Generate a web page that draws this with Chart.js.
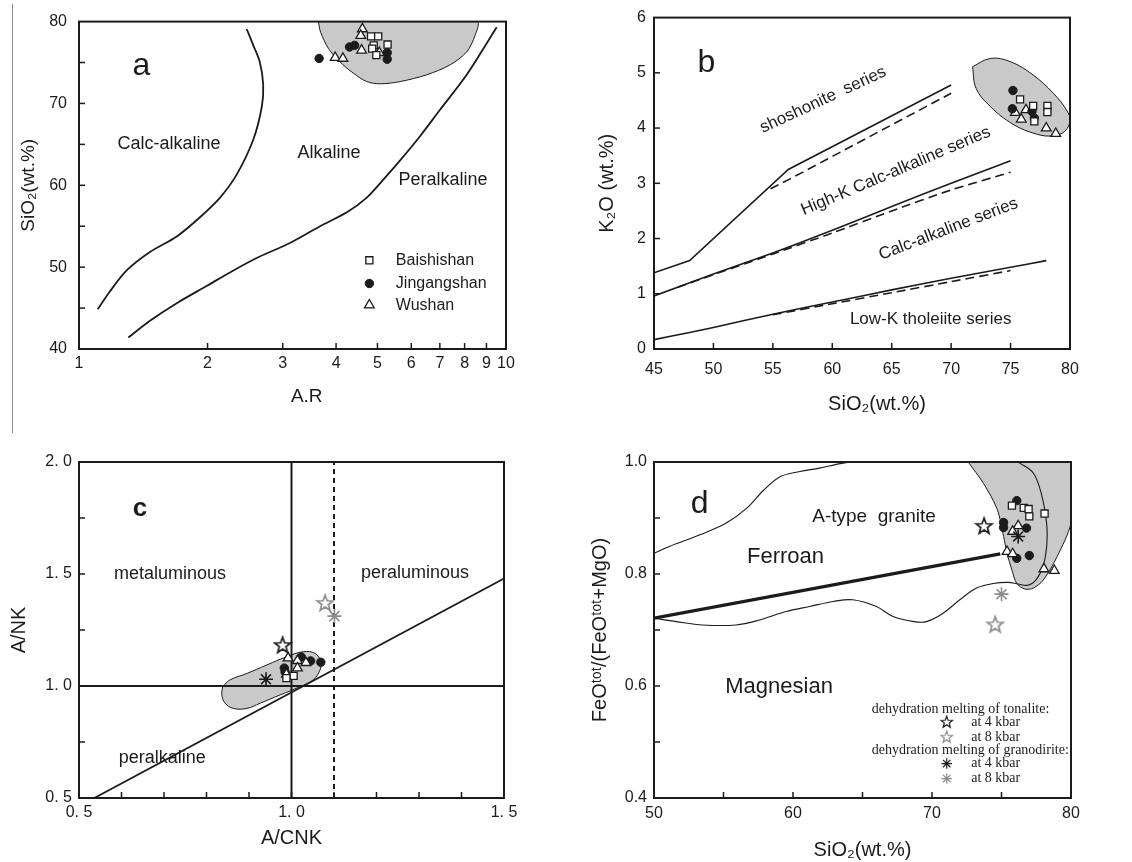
<!DOCTYPE html>
<html><head><meta charset="utf-8"><title>Granite discrimination diagrams</title>
<script src="https://cdn.jsdelivr.net/npm/chart.js@4/dist/chart.umd.min.js"></script>
<style>
html,body{margin:0;padding:0;background:#fff;}
#wrap{position:relative;width:1132px;height:862px;overflow:hidden;background:#fff;}
#wrap canvas{position:absolute;}
#sep{position:absolute;left:12px;top:4px;width:1px;height:429px;background:#888;}
</style></head><body>
<div id="wrap">
<div id="sep"></div>
<canvas id="ca" width="560" height="410" style="left:0;top:0"></canvas>
<canvas id="cb" width="572" height="416" style="left:560px;top:0"></canvas>
<canvas id="cc" width="560" height="452" style="left:0;top:410px"></canvas>
<canvas id="cd" width="572" height="452" style="left:560px;top:410px"></canvas>
</div>
<script>
const FONT = '"Liberation Sans", Arial, Helvetica, sans-serif';
const SERIF = '"Liberation Serif", "Times New Roman", serif';
const INK = '#1b1b1b';
const GRAY_MARK = '#8c8c8c';
const FIELD_GRAY = '#c9c9c9';

/* ---------- Panel a : SiO2 vs A.R ---------- */
const A_XTICKS = [1, 2, 3, 4, 5, 6, 7, 8, 9, 10];
const A_XLABELS = ['1', '2', '3', '4', '5', '6', '7', '8', '9', '10'];
const A_YTICKS = [40, 50, 60, 70, 80];
const A_YLABELS = ['40', '50', '60', '70', '80'];
const A_YMARKS = [45, 50, 55, 60, 65, 70, 75];
const A_CURVE1_X = [1.106, 1.18, 1.293, 1.466, 1.694, 1.92, 2.14, 2.34, 2.56, 2.68, 2.70, 2.65, 2.56, 2.47];
const A_CURVE1_Y = [44.85, 47.0, 49.6, 51.85, 53.75, 56.1, 58.5, 61.3, 65.6, 69.6, 72.35, 75.1, 77.1, 79.1];
const A_CURVE2_X = [1.305, 1.466, 1.694, 1.99, 2.30, 2.65, 3.12, 3.67, 4.24, 4.72, 5.16, 5.65, 6.29, 7.0, 8.09, 9.51];
const A_CURVE2_Y = [41.4, 43.45, 45.6, 47.7, 49.6, 51.3, 52.95, 55.0, 56.7, 58.5, 60.7, 63.05, 66.0, 69.2, 73.5, 79.3];
const A_FIELD_X = [3.635, 3.68, 3.84, 4.08, 4.39, 4.72, 5.07, 5.65, 6.52, 7.39, 8.09, 8.46, 8.57, 7.0, 5.5, 4.4, 3.635];
const A_FIELD_Y = [80, 78.7, 76.7, 75.1, 73.7, 72.67, 72.4, 72.67, 73.5, 74.7, 76.3, 78.3, 80, 80, 80, 80, 80];
const A_BAI_X = [4.83, 5.02, 4.90, 5.28, 4.86, 4.97];
const A_BAI_Y = [78.2, 78.2, 77.1, 77.2, 76.7, 75.9];
const A_JIN_X = [3.65, 4.30, 4.42, 5.27, 5.27];
const A_JIN_Y = [75.5, 76.9, 77.1, 76.2, 75.4];
const A_WU_X = [4.61, 4.57, 4.59, 3.98, 4.15, 5.05];
const A_WU_Y = [79.1, 78.3, 76.5, 75.6, 75.5, 76.2];

/* ---------- Panel b : K2O vs SiO2 ---------- */
const B_XTICKS = [45, 50, 55, 60, 65, 70, 75, 80];
const B_XLABELS = ['45', '50', '55', '60', '65', '70', '75', '80'];
const B_YTICKS = [0, 1, 2, 3, 4, 5, 6];
const B_YLABELS = ['0', '1', '2', '3', '4', '5', '6'];
const B_SHO_X = [45, 48, 56.3, 70];
const B_SHO_Y = [1.38, 1.6, 3.25, 4.78];
const B_SHO_D_X = [54.8, 56.8, 70];
const B_SHO_D_Y = [2.9, 3.12, 4.63];
const B_HK_X = [45, 50, 55, 60, 65, 70, 75];
const B_HK_Y = [0.96, 1.36, 1.74, 2.15, 2.58, 3.0, 3.41];
const B_HK_D_X = [47, 55, 60, 65, 70, 75];
const B_HK_D_Y = [1.12, 1.72, 2.1, 2.5, 2.88, 3.2];
const B_LK_X = [45, 48, 50, 55, 60, 65, 70, 75, 78];
const B_LK_Y = [0.17, 0.3, 0.39, 0.63, 0.85, 1.07, 1.28, 1.48, 1.6];
const B_LK_D_X = [55, 60, 65, 70, 75];
const B_LK_D_Y = [0.62, 0.82, 1.02, 1.22, 1.42];
const B_FIELD_X = [71.8, 73.3, 75.0, 76.9, 78.6, 79.7, 80.0, 79.6, 78.6, 77.2, 75.2, 73.3, 72.1, 71.8];
const B_FIELD_Y = [5.11, 5.26, 5.2, 4.96, 4.63, 4.33, 4.15, 3.95, 3.86, 3.89, 4.07, 4.39, 4.72, 5.11];
const B_BAI_X = [75.8, 76.9, 78.1, 78.1, 77.0];
const B_BAI_Y = [4.52, 4.4, 4.4, 4.29, 4.12];
const B_JIN_X = [75.2, 75.15, 76.8, 77.0];
const B_JIN_Y = [4.68, 4.35, 4.3, 4.18];
const B_WU_X = [75.4, 75.9, 76.3, 78.0, 78.8];
const B_WU_Y = [4.28, 4.16, 4.33, 4.0, 3.9];

/* ---------- Panel c : A/NK vs A/CNK ---------- */
const C_XTICKS = [0.5, 1.0, 1.5];
const C_XLABELS = ['0. 5', '1. 0', '1. 5'];
const C_XMARKS = [0.6, 0.7, 0.8, 0.9, 1.0, 1.1, 1.2, 1.3, 1.4];
const C_YTICKS = [0.5, 1.0, 1.5, 2.0];
const C_YLABELS = ['0. 5', '1. 0', '1. 5', '2. 0'];
const C_YMARKS = [0.75, 1.0, 1.25, 1.5, 1.75];
const C_VLINE_X = [1.0, 1.0], C_VLINE_Y = [0.5, 2.0];
const C_HLINE_X = [0.5, 1.5], C_HLINE_Y = [1.0, 1.0];
const C_DASH_X = [1.1, 1.1], C_DASH_Y = [0.5, 2.0];
const C_DIAG_X = [0.536, 1.5], C_DIAG_Y = [0.5, 1.48];
const C_FIELD_X = [0.838, 0.855, 0.895, 0.942, 0.989, 1.028, 1.055, 1.069, 1.067, 1.051, 1.020, 0.973, 0.926, 0.895, 0.863, 0.844, 0.836, 0.838];
const C_FIELD_Y = [0.997, 1.027, 1.056, 1.094, 1.131, 1.153, 1.146, 1.108, 1.071, 1.027, 0.997, 0.960, 0.923, 0.900, 0.900, 0.923, 0.960, 0.997];
const C_BAI_X = [1.005, 0.988];
const C_BAI_Y = [1.045, 1.035];
const C_JIN_X = [1.023, 1.045, 1.069, 0.983, 0.985];
const C_JIN_Y = [1.13, 1.112, 1.106, 1.08, 1.062];
const C_WU_X = [0.992, 1.014, 1.034, 1.014, 0.988];
const C_WU_Y = [1.125, 1.113, 1.104, 1.08, 1.052];
const C_TON4_X = [0.979], C_TON4_Y = [1.183];
const C_TON8_X = [1.079], C_TON8_Y = [1.371];
const C_GRA4_X = [0.94], C_GRA4_Y = [1.03];
const C_GRA8_X = [1.101], C_GRA8_Y = [1.312];

/* ---------- Panel d : FeOt/(FeOt+MgO) vs SiO2 ---------- */
const D_XTICKS = [50, 60, 70, 80];
const D_XLABELS = ['50', '60', '70', '80'];
const D_XMARKS = [55, 60, 65, 70, 75];
const D_YTICKS = [0.4, 0.6, 0.8, 1.0];
const D_YLABELS = ['0.4', '0.6', '0.8', '1.0'];
const D_YMARKS = [0.5, 0.6, 0.7, 0.8, 0.9];
const D_DIVIDE_X = [50, 74.91];
const D_DIVIDE_Y = [0.721, 0.836];
const D_ATYPE_UP_X = [50, 51.1, 53.3, 55.2, 56.7, 57.9, 59.1, 60.5, 61.9, 63.6, 64.8];
const D_ATYPE_UP_Y = [0.837, 0.849, 0.87, 0.891, 0.918, 0.95, 0.974, 0.983, 0.989, 0.998, 1.0];
const D_ATYPE_LOW_X = [76.2, 77.3, 77.9, 78.25, 78.25, 78.0, 77.5, 76.9, 76.2, 75.5, 74.4, 73.2, 72.0, 70.8, 69.6, 68.7, 67.2, 66.0, 64.3, 62.9, 61.2, 59.5, 57.6, 55.9, 53.5, 51.6, 50];
const D_ATYPE_LOW_Y = [1.0, 0.98, 0.94, 0.89, 0.85, 0.815, 0.79, 0.78, 0.782, 0.785, 0.783, 0.775, 0.754, 0.73, 0.715, 0.715, 0.724, 0.742, 0.754, 0.751, 0.742, 0.733, 0.718, 0.709, 0.709, 0.715, 0.721];
const D_FIELD_X = [72.6, 73.7, 74.7, 75.15, 75.4, 75.75, 76.1, 76.7, 77.3, 78.0, 79.0, 80.0, 80.0, 80.0, 76.0, 72.6];
const D_FIELD_Y = [1.0, 0.962, 0.915, 0.867, 0.837, 0.807, 0.783, 0.773, 0.775, 0.789, 0.831, 0.891, 0.95, 1.0, 1.0, 1.0];
const D_BAI_X = [75.75, 76.6, 76.95, 77.0, 78.1];
const D_BAI_Y = [0.922, 0.918, 0.916, 0.903, 0.908];
const D_JIN_X = [76.1, 75.15, 75.15, 76.8, 76.1, 77.0];
const D_JIN_Y = [0.931, 0.892, 0.883, 0.882, 0.828, 0.833];
const D_WU_X = [76.2, 75.8, 75.4, 75.8, 78.05, 78.8];
const D_WU_Y = [0.886, 0.876, 0.84, 0.836, 0.809, 0.806];
const D_TON4_X = [73.75], D_TON4_Y = [0.886];
const D_TON8_X = [74.55], D_TON8_Y = [0.71];
const D_GRA4_X = [76.2], D_GRA4_Y = [0.867];
const D_GRA8_X = [75.0], D_GRA8_Y = [0.764];

/* ---------- helpers ---------- */
function pts(xs, ys) { return xs.map((v, i) => ({x: v, y: ys[i]})); }

function starImg(color) {
  const c = document.createElement('canvas');
  c.width = 20; c.height = 20;
  const g = c.getContext('2d');
  g.beginPath();
  for (let i = 0; i < 10; i++) {
    const r = i % 2 ? 3.5 : 8.4;
    const a = -Math.PI / 2 + i * Math.PI / 5;
    g.lineTo(10 + r * Math.cos(a), 10.6 + r * Math.sin(a));
  }
  g.closePath();
  g.fillStyle = '#fff'; g.fill();
  g.lineWidth = 1.7; g.strokeStyle = color; g.lineJoin = 'miter'; g.stroke();
  return c;
}
const STAR_BLACK = starImg(INK);
const STAR_GRAY = starImg(GRAY_MARK);

const STYLES = {
  bai: {pointStyle: 'rect', pointRadius: 5, pointBackgroundColor: '#fff', pointBorderColor: INK, pointBorderWidth: 1.3},
  jin: {pointStyle: 'circle', pointRadius: 4.2, pointBackgroundColor: INK, pointBorderColor: INK, pointBorderWidth: 1},
  wu: {pointStyle: 'triangle', pointRadius: 5.6, pointBackgroundColor: '#fff', pointBorderColor: INK, pointBorderWidth: 1.3},
  ton4: {pointStyle: STAR_BLACK, pointRadius: 8, pointBackgroundColor: '#fff', pointBorderColor: INK, pointBorderWidth: 0},
  ton8: {pointStyle: STAR_GRAY, pointRadius: 8, pointBackgroundColor: '#fff', pointBorderColor: GRAY_MARK, pointBorderWidth: 0},
  gra4: {pointStyle: 'star', pointRadius: 7, pointBackgroundColor: INK, pointBorderColor: INK, pointBorderWidth: 1.6},
  gra8: {pointStyle: 'star', pointRadius: 7, pointBackgroundColor: GRAY_MARK, pointBorderColor: GRAY_MARK, pointBorderWidth: 1.6}
};

function pointDS(label, xs, ys, style) {
  return Object.assign({label, data: pts(xs, ys), showLine: false, order: 0}, STYLES[style]);
}
function lineDS(label, xs, ys, extra) {
  return Object.assign({label, data: pts(xs, ys), showLine: true, pointRadius: 0, borderColor: INK,
    borderWidth: 1.6, tension: 0.3, fill: false, order: 2}, extra || {});
}
function fieldDS(label, xs, ys, extra) {
  return Object.assign({label, data: pts(xs, ys), showLine: true, pointRadius: 0, borderColor: INK,
    borderWidth: 1, backgroundColor: FIELD_GRAY, fill: 'shape', tension: 0.3, order: 3}, extra || {});
}

function drawKey(ctx, style, x, y, k) {
  const s = STYLES[style];
  ctx.save();
  ctx.translate(x, y);
  ctx.scale(k || 1, k || 1);
  ctx.fillStyle = s.pointBackgroundColor;
  ctx.strokeStyle = s.pointBorderColor;
  ctx.lineWidth = s.pointBorderWidth;
  if (Chart.helpers && Chart.helpers.drawPoint) {
    Chart.helpers.drawPoint(ctx, {pointStyle: s.pointStyle, radius: s.pointRadius, rotation: 0, borderWidth: s.pointBorderWidth}, 0, 0);
  }
  ctx.restore();
}

function decor(cfg) {
  return {
    id: 'decor',
    afterDatasetsDraw(chart) {
      const {ctx, chartArea: ca, scales} = chart;
      const X = scales.x, Y = scales.y;
      const w = ca.right - ca.left, h = ca.bottom - ca.top;
      ctx.save();
      (cfg.texts || []).forEach(t => {
        const px = t.fx !== undefined ? ca.left + t.fx * w : X.getPixelForValue(t.x);
        const py = t.fy !== undefined ? ca.top + t.fy * h : Y.getPixelForValue(t.y);
        ctx.save();
        ctx.translate(px, py);
        if (t.rot) ctx.rotate(t.rot * Math.PI / 180);
        ctx.font = (t.weight || 'normal') + ' ' + t.size + 'px ' + (t.family || FONT);
        ctx.fillStyle = t.color || INK;
        ctx.textAlign = t.align || 'center';
        ctx.textBaseline = 'middle';
        ctx.fillText(t.text, 0, 0);
        ctx.restore();
      });
      (cfg.keys || []).forEach(k => drawKey(ctx, k.style, ca.left + k.fx * w, ca.top + k.fy * h, k.k));
      ctx.strokeStyle = INK;
      ctx.lineWidth = 1.5;
      (cfg.xMarks || []).forEach(v => {
        const p = X.getPixelForValue(v);
        ctx.beginPath(); ctx.moveTo(p, ca.bottom); ctx.lineTo(p, ca.bottom - 6); ctx.stroke();
      });
      (cfg.yMarks || []).forEach(v => {
        const p = Y.getPixelForValue(v);
        ctx.beginPath(); ctx.moveTo(ca.left, p); ctx.lineTo(ca.left + 6, p); ctx.stroke();
      });
      ctx.lineWidth = 2;
      ctx.strokeRect(ca.left, ca.top, w, h);
      ctx.restore();
    }
  };
}

function axisOpts(a, pos) {
  return {
    type: a.type || 'linear', position: pos, min: a.min, max: a.max,
    grid: {display: false, drawTicks: false}, border: {display: false},
    afterBuildTicks: s => { s.ticks = a.ticks.map(v => ({value: v})); },
    afterFit: s => { if (pos === 'left') s.width = a.size; else s.height = a.size; },
    ticks: {autoSkip: false, maxRotation: 0, minRotation: 0, padding: a.pad, color: INK,
      font: {family: FONT, size: a.fontSize || 16}, callback: (v, i) => a.labels[i]},
    title: {display: true, text: a.title, color: INK, font: {family: FONT, size: a.titleSize || 20},
      padding: {top: a.titlePad, bottom: a.titlePad}}
  };
}

function build(id, cfg) {
  return new Chart(document.getElementById(id), {
    type: 'scatter',
    data: {datasets: cfg.datasets},
    options: {
      responsive: false, animation: false, events: [], devicePixelRatio: 1,
      layout: {padding: cfg.padding},
      plugins: {legend: {display: false}, tooltip: {enabled: false}},
      scales: {x: axisOpts(cfg.x, 'bottom'), y: axisOpts(cfg.y, 'left')}
    },
    plugins: [decor(cfg)]
  });
}

/* ---------- panel a ---------- */
build('ca', {
  padding: {left: 0, top: 12, right: 54, bottom: 0},
  x: {type: 'logarithmic', min: 1, max: 10, ticks: A_XTICKS, labels: A_XLABELS, size: 61, pad: 5,
      title: '\u2002\u2002\u2002A.R', titleSize: 19, titlePad: 2},
  y: {min: 40, max: 80, ticks: A_YTICKS, labels: A_YLABELS, size: 79, pad: 12,
      title: 'SiO\u2082(wt.%)', titleSize: 19, titlePad: 17},
  xMarks: A_XTICKS.slice(1, -1), yMarks: A_YMARKS,
  datasets: [
    pointDS('Baishishan', A_BAI_X, A_BAI_Y, 'bai'),
    pointDS('Jingangshan', A_JIN_X, A_JIN_Y, 'jin'),
    pointDS('Wushan', A_WU_X, A_WU_Y, 'wu'),
    lineDS('Calc-alkaline / Alkaline', A_CURVE1_X, A_CURVE1_Y, {borderWidth: 1.8}),
    lineDS('Alkaline / Peralkaline', A_CURVE2_X, A_CURVE2_Y, {borderWidth: 1.8}),
    fieldDS('A-type field', A_FIELD_X, A_FIELD_Y)
  ],
  texts: [
    {text: 'a', x: 1.40, y: 74.5, size: 32},
    {text: 'Calc-alkaline', x: 1.625, y: 65.07, size: 18},
    {text: 'Alkaline', x: 3.85, y: 64.0, size: 18},
    {text: 'Peralkaline', x: 7.12, y: 60.68, size: 18},
    {text: 'Baishishan', fx: 0.742, fy: 0.729, size: 16, align: 'left'},
    {text: 'Jingangshan', fx: 0.742, fy: 0.800, size: 16, align: 'left'},
    {text: 'Wushan', fx: 0.742, fy: 0.866, size: 16, align: 'left'}
  ],
  keys: [
    {style: 'bai', fx: 0.680, fy: 0.729},
    {style: 'jin', fx: 0.680, fy: 0.800},
    {style: 'wu', fx: 0.680, fy: 0.866}
  ]
});

/* ---------- panel b ---------- */
const DASH = [9, 5];
build('cb', {
  padding: {left: 0, top: 13, right: 62, bottom: 0},
  x: {min: 45, max: 80, ticks: B_XTICKS, labels: B_XLABELS, size: 67, pad: 11,
      title: '\u2002\u2002\u2002SiO\u2082(wt.%)', titleSize: 20, titlePad: 0},
  y: {min: 0, max: 6, ticks: B_YTICKS, labels: B_YLABELS, size: 94, pad: 8,
      title: 'K\u2082O (wt.%)', titleSize: 20, titlePad: 35},
  xMarks: B_XTICKS.slice(1, -1), yMarks: B_YTICKS.slice(1, -1),
  datasets: [
    pointDS('Baishishan', B_BAI_X, B_BAI_Y, 'bai'),
    pointDS('Jingangshan', B_JIN_X, B_JIN_Y, 'jin'),
    pointDS('Wushan', B_WU_X, B_WU_Y, 'wu'),
    lineDS('shoshonite boundary', B_SHO_X, B_SHO_Y, {tension: 0}),
    lineDS('shoshonite boundary (alt)', B_SHO_D_X, B_SHO_D_Y, {tension: 0, borderDash: DASH}),
    lineDS('high-K boundary', B_HK_X, B_HK_Y, {tension: 0.2}),
    lineDS('high-K boundary (alt)', B_HK_D_X, B_HK_D_Y, {tension: 0.2, borderDash: DASH}),
    lineDS('low-K boundary', B_LK_X, B_LK_Y, {tension: 0.2}),
    lineDS('low-K boundary (alt)', B_LK_D_X, B_LK_D_Y, {tension: 0.2, borderDash: DASH}),
    fieldDS('sample field', B_FIELD_X, B_FIELD_Y, {tension: 0.4})
  ],
  texts: [
    {text: 'b', x: 49.4, y: 5.17, size: 32},
    {text: 'shoshonite  series', x: 59.23, y: 4.51, size: 17, rot: -25},
    {text: 'High-K Calc-alkaline series', x: 65.34, y: 3.22, size: 17, rot: -23},
    {text: 'Calc-alkaline series', x: 69.77, y: 2.17, size: 17, rot: -21},
    {text: 'Low-K tholeiite series', x: 68.28, y: 0.54, size: 17}
  ]
});

/* ---------- panel c ---------- */
build('cc', {
  padding: {left: 0, top: 52, right: 56, bottom: 0},
  x: {min: 0.5, max: 1.5, ticks: C_XTICKS, labels: C_XLABELS, size: 64, pad: 5,
      title: 'A/CNK', titleSize: 20, titlePad: 12},
  y: {min: 0.5, max: 2.0, ticks: C_YTICKS, labels: C_YLABELS, size: 79, pad: 7,
      title: 'A/NK', titleSize: 20, titlePad: 7},
  xMarks: C_XMARKS, yMarks: C_YMARKS,
  datasets: [
    pointDS('tonalite 4 kbar', C_TON4_X, C_TON4_Y, 'ton4'),
    pointDS('tonalite 8 kbar', C_TON8_X, C_TON8_Y, 'ton8'),
    pointDS('granodiorite 4 kbar', C_GRA4_X, C_GRA4_Y, 'gra4'),
    pointDS('granodiorite 8 kbar', C_GRA8_X, C_GRA8_Y, 'gra8'),
    pointDS('Baishishan', C_BAI_X, C_BAI_Y, 'bai'),
    pointDS('Wushan', C_WU_X, C_WU_Y, 'wu'),
    pointDS('Jingangshan', C_JIN_X, C_JIN_Y, 'jin'),
    lineDS('A/CNK = 1', C_VLINE_X, C_VLINE_Y, {tension: 0, borderWidth: 2}),
    lineDS('A/NK = 1', C_HLINE_X, C_HLINE_Y, {tension: 0, borderWidth: 2}),
    lineDS('A/CNK = 1.1', C_DASH_X, C_DASH_Y, {tension: 0, borderWidth: 2, borderDash: [5, 4]}),
    lineDS('peralkaline boundary', C_DIAG_X, C_DIAG_Y, {tension: 0, borderWidth: 1.8}),
    fieldDS('sample field', C_FIELD_X, C_FIELD_Y, {tension: 0.4})
  ],
  texts: [
    {text: 'c', x: 0.6435, y: 1.792, size: 26, weight: 'bold'},
    {text: 'metaluminous', x: 0.714, y: 1.502, size: 18},
    {text: 'peraluminous', x: 1.2906, y: 1.505, size: 18},
    {text: 'peralkaline', x: 0.696, y: 0.678, size: 18}
  ]
});

/* ---------- panel d ---------- */
build('cd', {
  padding: {left: 0, top: 52, right: 61, bottom: 0},
  x: {min: 50, max: 80, ticks: D_XTICKS, labels: D_XLABELS, size: 64, pad: 6,
      title: 'SiO\u2082(wt.%)', titleSize: 20, titlePad: 0},
  y: {min: 0.4, max: 1.0, ticks: D_YTICKS, labels: D_YLABELS, size: 94, pad: 7,
      title: 'FeO\u1D57\u1D52\u1D57/(FeO\u1D57\u1D52\u1D57+MgO)', titleSize: 20, titlePad: 28},
  xMarks: D_XMARKS, yMarks: D_YMARKS,
  datasets: [
    pointDS('tonalite 4 kbar', D_TON4_X, D_TON4_Y, 'ton4'),
    pointDS('tonalite 8 kbar', D_TON8_X, D_TON8_Y, 'ton8'),
    pointDS('granodiorite 4 kbar', D_GRA4_X, D_GRA4_Y, 'gra4'),
    pointDS('granodiorite 8 kbar', D_GRA8_X, D_GRA8_Y, 'gra8'),
    pointDS('Baishishan', D_BAI_X, D_BAI_Y, 'bai'),
    pointDS('Wushan', D_WU_X, D_WU_Y, 'wu'),
    pointDS('Jingangshan', D_JIN_X, D_JIN_Y, 'jin'),
    lineDS('Ferroan / Magnesian', D_DIVIDE_X, D_DIVIDE_Y, {tension: 0, borderWidth: 3.2}),
    lineDS('A-type granite (upper)', D_ATYPE_UP_X, D_ATYPE_UP_Y, {borderWidth: 1.1, tension: 0.35}),
    lineDS('A-type granite (lower)', D_ATYPE_LOW_X, D_ATYPE_LOW_Y, {borderWidth: 1.1, tension: 0.35}),
    fieldDS('sample field', D_FIELD_X, D_FIELD_Y, {tension: 0.3})
  ],
  texts: [
    {text: 'd', x: 53.29, y: 0.924, size: 32},
    {text: 'A-type  granite', x: 65.83, y: 0.903, size: 19},
    {text: 'Ferroan', x: 59.46, y: 0.831, size: 22},
    {text: 'Magnesian', x: 59.0, y: 0.599, size: 22},
    {text: 'dehydration melting of tonalite:', fx: 0.522, fy: 0.7355, size: 14, family: SERIF, align: 'left'},
    {text: 'at 4 kbar', fx: 0.7606, fy: 0.7734, size: 14, family: SERIF, align: 'left'},
    {text: 'at 8 kbar', fx: 0.7606, fy: 0.8181, size: 14, family: SERIF, align: 'left'},
    {text: 'dehydration melting of granodirite:', fx: 0.522, fy: 0.8578, size: 14, family: SERIF, align: 'left'},
    {text: 'at 4 kbar', fx: 0.7606, fy: 0.8974, size: 14, family: SERIF, align: 'left'},
    {text: 'at 8 kbar', fx: 0.7606, fy: 0.9422, size: 14, family: SERIF, align: 'left'}
  ],
  keys: [
    {style: 'ton4', fx: 0.702, fy: 0.7734, k: 0.72},
    {style: 'ton8', fx: 0.702, fy: 0.8181, k: 0.72},
    {style: 'gra4', fx: 0.702, fy: 0.8974, k: 0.75},
    {style: 'gra8', fx: 0.702, fy: 0.9422, k: 0.75}
  ]
});
</script>
</body></html>
